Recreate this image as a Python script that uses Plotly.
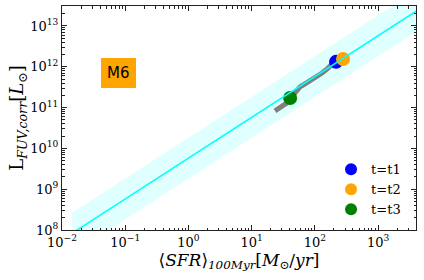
import numpy as np
import plotly.graph_objects as go

# Relation L = K * SFR, with +/- scatter in dex
log_k = 9.76
scatter_dex = 0.5
sfr_range = [0.0145, 4000.0]

# Gray evolutionary track
track_sfr = [23.4, 26.0, 28.1, 32.0, 36.3, 45.0, 58.3, 68.0, 78.0, 92.0, 108.0, 130.0, 162.0, 194.0]
track_L = [8.3e10, 9.4e10, 1.03e11, 1.15e11, 1.30e11, 2.0e11, 3.2e11, 3.7e11, 4.2e11, 4.9e11, 5.6e11, 7.05e11, 9.3e11, 1.24e12]

# Snapshots
snap_names = ["t=t1", "t=t2", "t=t3"]
snap_sfr = [216.0, 279.0, 40.6]
snap_L = [1.32e12, 1.55e12, 1.72e11]
snap_colors = ["blue", "orange", "green"]

# Tick labels
x_exps = [-2, -1, 0, 1, 2, 3]
y_exps = [8, 9, 10, 11, 12, 13]


def pow_label(e):
    s = str(e).replace("-", "−")
    return f"10<sup>{s}</sup>"


xs = np.array(sfr_range)
ys = 10 ** log_k * xs

fig = go.Figure()
band_x = list(xs) + list(xs[::-1])
band_y = list(ys * 10 ** scatter_dex) + list((ys * 10 ** -scatter_dex)[::-1])
fig.add_trace(go.Scatter(x=band_x, y=band_y, fill="toself", fillcolor="#e0ffff",
                         line=dict(width=0), mode="lines", showlegend=False, hoverinfo="skip"))
fig.add_trace(go.Scatter(x=track_sfr, y=track_L, mode="lines", line=dict(color="gray", width=5),
                         showlegend=False))
for n, sx, sy, c in zip(snap_names, snap_sfr, snap_L, snap_colors):
    fig.add_trace(go.Scatter(x=[sx], y=[sy], mode="markers", name=n,
                             marker=dict(color=c, size=14)))
fig.add_trace(go.Scatter(x=xs, y=ys, mode="lines", line=dict(color="cyan", width=1.5),
                         showlegend=False))

serif = "DejaVu Serif"
axis_common = dict(type="log", showgrid=False, zeroline=False, showline=True, linecolor="#222",
                   linewidth=1, mirror="allticks", ticks="inside", ticklen=5, tickcolor="#222",
                   automargin=False,
                   tickfont=dict(family=serif, size=13, color="black"),
                   minor=dict(ticks="inside", ticklen=2.5, tickcolor="#222", showgrid=False,
                              dtick="D1"))

fig.update_layout(
    width=424, height=280, margin=dict(l=62, r=8, t=6, b=50),
    paper_bgcolor="white", plot_bgcolor="white",
    xaxis=dict(range=[-2, 3.6],
               tickvals=[10 ** e for e in x_exps], ticktext=[pow_label(e) for e in x_exps],
               title=dict(text="⟨<i>SFR</i>⟩<sub><i>100Myr</i></sub>[<i>M</i><sub>⊙</sub>/<i>yr</i>]",
                          font=dict(family=serif, size=17, color="black"), standoff=0),
               **axis_common),
    yaxis=dict(range=[8, 13.49],
               tickvals=[10 ** e for e in y_exps], ticktext=[pow_label(e) for e in y_exps],
               title=dict(text="L<sub><i>FUV,corr</i></sub>[<i>L</i><sub>⊙</sub>]",
                          font=dict(family=serif, size=18, color="black"), standoff=0),
               **axis_common),
    legend=dict(x=0.76, xanchor="left", y=0.025, yanchor="bottom", bgcolor="rgba(0,0,0,0)",
                font=dict(family=serif, size=13, color="black"), itemsizing="constant"),
    showlegend=True,
)
fig.add_annotation(x=0.161, y=0.70, xref="paper", yref="paper", text="M6", showarrow=False,
                   xanchor="center", yanchor="middle",
                   font=dict(family="DejaVu Sans", size=15, color="black"),
                   bgcolor="orange", bordercolor="orange", borderpad=5, borderwidth=1)

fig.write_html("out.html", config={"displayModeBar": False},
               post_script="document.body.style.margin='0';")
